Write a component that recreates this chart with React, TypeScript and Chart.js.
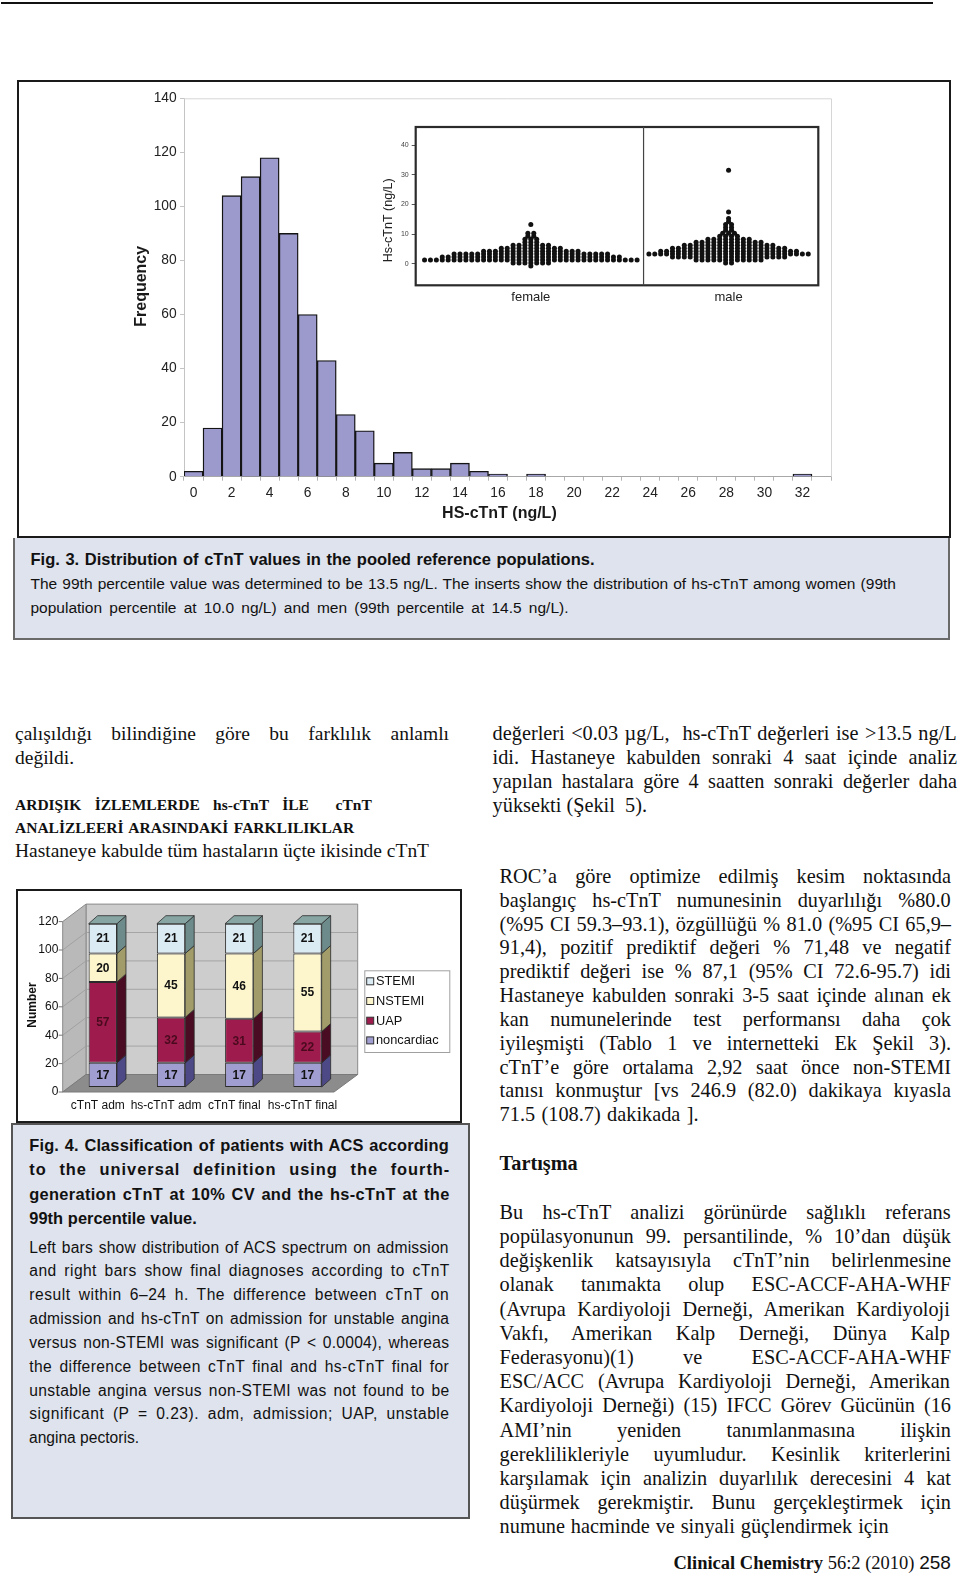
import React, { useEffect, useRef } from 'react';
import { Chart, registerables } from 'chart.js';

Chart.register(...registerables);

const SANS = '"Liberation Sans", Arial, Helvetica, sans-serif';
const SERIF = '"Liberation Serif", "Times New Roman", Times, serif';

// ---------- Fig. 3 histogram data ----------
const histBins = ['0', '1', '2', '3', '4', '5', '6', '7', '8', '9', '10', '11', '12', '13', '14', '15', '16',
  '17', '18', '19', '20', '21', '22', '23', '24', '25', '26', '27', '28', '29', '30', '31', '32', '33'];
const histFreq = [2, 18, 104, 111, 118, 90, 60, 43, 23, 17, 5, 9, 3, 3, 5, 2, 1, 0, 1, 0, 0, 0, 0, 0, 0, 0, 0,
  0, 0, 0, 0, 0, 1, 0];
const histYMax = 140;
const histYStep = 20;

// ---------- Fig. 3 insert (beeswarm) data ----------
const insetGroups = ['female', 'male'];
const femaleLevels = [-0.7, 0.3, 1.3, 2.3, 3.3, 4.3, 5.3, 6.3, 7.3, 8.3, 9.3, 10.3, 13.3];
const femaleCounts = [1, 7, 37, 31, 27, 17, 11, 7, 3, 3, 2, 2, 1];
const maleLevels = [0.3, 1.3, 2.3, 3.3, 4.3, 5.3, 6.3, 7.3, 8.3, 9.3, 10.3, 11.3, 12.3, 13.3, 14.3, 15.3, 17.5, 31.5];
const maleCounts = [2, 12, 20, 28, 24, 20, 16, 12, 8, 4, 3, 2, 2, 2, 1, 1, 1, 1];
const insetYTicks = [0, 10, 20, 30, 40];

// ---------- Fig. 4 stacked bars data ----------
const acsGroups = ['cTnT adm', 'hs-cTnT adm', 'cTnT final', 'hs-cTnT final'];
const noncardiac = [17, 17, 17, 17];
const uap = [57, 32, 31, 22];
const nstemi = [20, 45, 46, 55];
const stemi = [21, 21, 21, 21];
const acsYMax = 120;
const acsYStep = 20;

// ---------- text ----------
const fig3Bold = 'Fig. 3. Distribution of cTnT values in the pooled reference populations.';
const fig3Lines = [
  'The 99th percentile value was determined to be 13.5 ng/L. The inserts show the distribution of hs-cTnT among women (99th',
  'population percentile at 10.0 ng/L) and men (99th percentile at 14.5 ng/L).',
];
const fig4Bold = [
  'Fig. 4. Classification of patients with ACS according',
  'to the universal definition using the fourth-',
  'generation cTnT at 10% CV and the hs-cTnT at the',
  '99th percentile value.',
];
const fig4Lines = [
  'Left bars show distribution of ACS spectrum on admission',
  'and right bars show final diagnoses according to cTnT',
  'result within 6–24 h. The difference between cTnT on',
  'admission and hs-cTnT on admission for unstable angina',
  'versus non-STEMI was significant (P < 0.0004), whereas',
  'the difference between cTnT final and hs-cTnT final for',
  'unstable angina versus non-STEMI was not found to be',
  'significant (P = 0.23). adm, admission; UAP, unstable',
  'angina pectoris.',
];
const rightTop = [
  'değerleri <0.03 µg/L,  hs-cTnT değerleri ise >13.5 ng/L',
  'idi. Hastaneye kabulden sonraki 4 saat içinde analiz',
  'yapılan hastalara göre 4 saatten sonraki değerler daha',
  'yüksekti (Şekil  5).',
];
const rightMid = [
  'ROC’a göre optimize edilmiş kesim noktasında',
  'başlangıç hs-cTnT numunesinin duyarlılığı %80.0',
  '(%95 CI 59.3–93.1), özgüllüğü % 81.0 (%95 CI 65,9–',
  '91,4), pozitif prediktif değeri % 71,48 ve negatif',
  'prediktif değeri ise % 87,1 (95% CI 72.6-95.7) idi',
  'Hastaneye kabulden sonraki 3-5 saat içinde alınan ek',
  'kan numunelerinde test performansı daha çok',
  'iyileşmişti (Tablo 1 ve internetteki Ek Şekil 3).',
  'cTnT’e göre ortalama 2,92 saat önce non-STEMI',
  'tanısı konmuştur [vs 246.9 (82.0) dakikaya kıyasla',
  '71.5 (108.7) dakikada ].',
];
const rightBottom = [
  'Bu hs-cTnT analizi görünürde sağlıklı referans',
  'popülasyonunun 99. persantilinde, % 10’dan düşük',
  'değişkenlik katsayısıyla cTnT’nin belirlenmesine',
  'olanak tanımakta olup ESC-ACCF-AHA-WHF',
  '(Avrupa Kardiyoloji Derneği, Amerikan Kardiyoloji',
  'Vakfı, Amerikan Kalp Derneği, Dünya Kalp',
  'Federasyonu)(1) ve ESC-ACCF-AHA-WHF',
  'ESC/ACC (Avrupa Kardiyoloji Derneği, Amerikan',
  'Kardiyoloji Derneği) (15) IFCC Görev Gücünün (16',
  'AMI’nin yeniden tanımlanmasına ilişkin',
  'gereklilikleriyle uyumludur. Kesinlik kriterlerini',
  'karşılamak için analizin duyarlılık derecesini 4 kat',
  'düşürmek gerekmiştir. Bunu gerçekleştirmek için',
  'numune hacminde ve sinyali güçlendirmek için',
];

if (typeof document !== 'undefined') {
  document.body.style.margin = '0';
  document.body.style.background = '#fff';
}

const measureCanvas = typeof document !== 'undefined' ? document.createElement('canvas') : null;
const mctx = measureCanvas ? measureCanvas.getContext('2d') : null;

function TextLine(props: {
  t: string; x: number; cy: number; w?: number; size: number; family: string; weight?: string;
  color?: string; mode?: 'word' | 'mix';
}) {
  const { t, x, cy, w, size, family, weight = 'normal', color = '#111', mode = 'word' } = props;
  const style: any = {
    position: 'absolute', left: x, top: cy - 0.52 * size, fontFamily: family, fontSize: size,
    fontWeight: weight, lineHeight: size + 'px', whiteSpace: 'pre', color,
  };
  if (w && mctx) {
    mctx.font = `${weight} ${size}px ${family}`;
    const natural = mctx.measureText(t).width;
    const spaces = (t.match(/ /g) || []).length;
    if (natural > w) {
      style.transform = `scaleX(${w / natural})`;
      style.transformOrigin = 'left top';
    } else {
      const extra = w - natural;
      if (mode === 'mix' && t.length > 1) {
        if (spaces > 0) {
          const ls = (extra * 0.5) / (t.length - 1);
          style.letterSpacing = ls + 'px';
          style.wordSpacing = (extra * 0.5) / spaces + 'px';
        } else {
          style.letterSpacing = extra / (t.length - 1) + 'px';
        }
      } else if (spaces > 0) {
        style.wordSpacing = extra / spaces + 'px';
      }
    }
  }
  return <div style={style}>{t}</div>;
}

function Block(props: {
  lines: string[]; x: number; cy0: number; pitch: number; w: number; size: number; family: string;
  weight?: string; lastJustify?: boolean; lastW?: number; mode?: 'word' | 'mix';
}) {
  const { lines, x, cy0, pitch, w, size, family, weight, lastJustify, lastW, mode } = props;
  return (
    <>
      {lines.map((t, i) => {
        const last = i === lines.length - 1;
        const width = last ? (lastJustify ? w : lastW) : w;
        return (
          <TextLine key={i} t={t} x={x} cy={cy0 + i * pitch} w={width} size={size} family={family}
            weight={weight} mode={mode} />
        );
      })}
    </>
  );
}

// ---------- Chart components ----------
function HistogramChart() {
  const ref = useRef<HTMLCanvasElement>(null);
  useEffect(() => {
    if (!ref.current) return;
    const deco = {
      id: 'histDeco',
      afterDraw(chart: any) {
        const { ctx, chartArea: a } = chart;
        ctx.save();
        ctx.strokeStyle = '#d6d6d6';
        ctx.lineWidth = 1;
        ctx.beginPath();
        ctx.moveTo(a.left, a.top + 0.5);
        ctx.lineTo(a.right + 0.5, a.top + 0.5);
        ctx.lineTo(a.right + 0.5, a.bottom);
        ctx.stroke();
        ctx.fillStyle = '#1a1a1a';
        ctx.textAlign = 'center';
        ctx.textBaseline = 'middle';
        ctx.font = `bold 16px ${SANS}`;
        ctx.fillText('HS-cTnT (ng/L)', a.left + 315.4, a.bottom + 37.3);
        ctx.translate(a.left - 42.3, (a.top + a.bottom) / 2 - 1.2);
        ctx.rotate(-Math.PI / 2);
        ctx.fillText('Frequency', 0, 0);
        ctx.restore();
      },
    };
    const chart = new Chart(ref.current, {
      type: 'bar',
      data: {
        labels: histBins,
        datasets: [{
          data: histFreq, backgroundColor: '#9c9acd', borderColor: '#141414', borderWidth: 1.4,
          barPercentage: 1, categoryPercentage: 1,
        }],
      },
      options: {
        animation: false, responsive: false, devicePixelRatio: 1,
        layout: { padding: { top: 15.3, right: 112, left: 0, bottom: 0 }, autoPadding: false } as any,
        plugins: { legend: { display: false }, tooltip: { enabled: false } },
        scales: {
          x: {
            type: 'category', offset: true,
            grid: { drawOnChartArea: false, drawTicks: true, tickLength: 4, color: '#b4b4b4', offset: true },
            border: { color: '#a8a8a8' },
            ticks: {
              autoSkip: false, maxRotation: 0, minRotation: 0, padding: 4.5, color: '#222',
              font: { family: SANS, size: 13.8 },
              callback: (_v: any, i: number) => (i % 2 === 0 ? histBins[i] : ''),
            },
            afterFit: (s: any) => { s.height = 53.3; },
          },
          y: {
            min: 0, max: histYMax,
            ticks: { stepSize: histYStep, padding: 3.3, color: '#222', font: { family: SANS, size: 13.8 } },
            grid: { drawOnChartArea: false, drawTicks: true, tickLength: 4, color: '#c4c4c4' },
            border: { color: '#c4c4c4' },
            afterFit: (s: any) => { s.width = 163; },
          },
        },
      },
      plugins: [deco],
    } as any);
    return () => chart.destroy();
  }, []);
  return <canvas ref={ref} width={922} height={447} style={{ position: 'absolute', left: 21, top: 83 }} />;
}

function swarm(levels: number[], counts: number[], center: number) {
  const pts: { x: number; y: number }[] = [];
  levels.forEach((v, r) => {
    const n = counts[r];
    for (let j = 0; j < n; j++) pts.push({ x: center + j - (n - 1) / 2, y: v });
  });
  return pts;
}

function InsetChart() {
  const ref = useRef<HTMLCanvasElement>(null);
  useEffect(() => {
    if (!ref.current) return;
    const centers = [19.5, 53.0];
    const divider = 38.6;
    const deco = {
      id: 'insetDeco',
      afterDraw(chart: any) {
        const { ctx, chartArea: a, scales } = chart;
        ctx.save();
        ctx.strokeStyle = '#2b2b2b';
        ctx.lineWidth = 2.2;
        ctx.strokeRect(a.left, a.top, a.right - a.left, a.bottom - a.top);
        const dx = scales.x.getPixelForValue(divider);
        ctx.lineWidth = 1.2;
        ctx.strokeStyle = '#444';
        ctx.beginPath();
        ctx.moveTo(dx, a.top);
        ctx.lineTo(dx, a.bottom);
        ctx.stroke();
        ctx.fillStyle = '#222';
        ctx.font = `12.5px ${SANS}`;
        ctx.textAlign = 'center';
        ctx.textBaseline = 'middle';
        ctx.translate(a.left - 27.4, 108.3);
        ctx.rotate(-Math.PI / 2);
        ctx.fillText('Hs-cTnT (ng/L)', 0, 0);
        ctx.restore();
      },
    };
    const chart = new Chart(ref.current, {
      type: 'scatter',
      data: {
        datasets: [
          { data: swarm(femaleLevels, femaleCounts, centers[0]), backgroundColor: '#111', borderWidth: 0, pointRadius: 2.5 },
          { data: swarm(maleLevels, maleCounts, centers[1]), backgroundColor: '#111', borderWidth: 0, pointRadius: 2.5 },
        ],
      },
      options: {
        animation: false, responsive: false, devicePixelRatio: 1,
        layout: { padding: { top: 15, right: 26.7, left: 0, bottom: 0 }, autoPadding: false } as any,
        plugins: { legend: { display: false }, tooltip: { enabled: false } },
        scales: {
          x: {
            type: 'linear', min: 0, max: 68.2,
            afterBuildTicks: (axis: any) => { axis.ticks = centers.map((v) => ({ value: v })); },
            ticks: {
              padding: 4, color: '#222', font: { family: SANS, size: 13 }, maxRotation: 0, autoSkip: false,
              callback: (_v: any, i: number) => insetGroups[i],
            },
            grid: { display: false, drawTicks: false },
            border: { display: false },
            afterFit: (s: any) => { s.height = 26.7; },
          },
          y: {
            type: 'linear', min: -7.2, max: 46.1,
            afterBuildTicks: (axis: any) => { axis.ticks = insetYTicks.map((v) => ({ value: v })); },
            ticks: { padding: 3, color: '#444', font: { family: SANS, size: 7 } },
            grid: { drawOnChartArea: false, drawTicks: true, tickLength: 4, color: '#555' },
            border: { display: false },
            afterFit: (s: any) => { s.width = 40.7; },
          },
        },
      },
      plugins: [deco],
    } as any);
    return () => chart.destroy();
  }, []);
  return <canvas ref={ref} width={470} height={200} style={{ position: 'absolute', left: 375, top: 112 }} />;
}

function AcsChart() {
  const ref = useRef<HTMLCanvasElement>(null);
  useEffect(() => {
    if (!ref.current) return;
    const fronts = ['#a09dd1', '#9e1c4d', '#fdf6cc', '#dbebf4'];
    const sides = ['#4c4986', '#4a0c22', '#a19c6a', '#6d8b8a'];
    const topFace = '#86a5a3';
    const valueColors = ['#111', '#4a0a1e', '#111', '#111'];
    const DX = 9, DY = -8;
    const poly = (ctx: any, pts: number[][], fill: string, stroke = '#2a2a2a', lw = 0.8) => {
      ctx.beginPath();
      pts.forEach((p, i) => (i ? ctx.lineTo(p[0], p[1]) : ctx.moveTo(p[0], p[1])));
      ctx.closePath();
      ctx.fillStyle = fill;
      ctx.fill();
      if (stroke) { ctx.strokeStyle = stroke; ctx.lineWidth = lw; ctx.stroke(); }
    };
    const bar3d = {
      id: 'bar3d',
      beforeDatasetsDraw(chart: any) {
        const { ctx, chartArea: a, scales } = chart;
        const ys = scales.y;
        const fx = a.left - 6, bx = a.left + 17.3, brx = a.right + 16.1, ffx = a.right - 7.6;
        const f = (v: number) => ys.getPixelForValue(v) + 5;
        const b = (v: number) => ys.getPixelForValue(v) - 12.5;
        ctx.save();
        poly(ctx, [[bx, b(acsYMax)], [brx, b(acsYMax)], [brx, b(0)], [bx, b(0)]], '#cdcdcd', '#8a8a8a', 1);
        poly(ctx, [[fx, f(acsYMax)], [bx, b(acsYMax)], [bx, b(0)], [fx, f(0)]], '#b9b9b9', '#8a8a8a', 1);
        poly(ctx, [[fx, f(0)], [ffx, f(0)], [brx, b(0)], [bx, b(0)]], '#8c8c8c', '#7a7a7a', 1);
        ctx.strokeStyle = '#9a9a9a';
        ctx.lineWidth = 0.8;
        for (let v = acsYStep; v < acsYMax; v += acsYStep) {
          ctx.beginPath();
          ctx.moveTo(fx, f(v));
          ctx.lineTo(bx, b(v));
          ctx.lineTo(brx, b(v));
          ctx.stroke();
        }
        ctx.strokeStyle = '#777';
        ctx.lineWidth = 1;
        ctx.beginPath();
        for (let v = 0; v <= acsYMax; v += acsYStep) {
          ctx.moveTo(fx - 4, f(v));
          ctx.lineTo(fx, f(v));
        }
        ctx.stroke();
        ctx.restore();
      },
      afterDatasetsDraw(chart: any) {
        const { ctx } = chart;
        ctx.save();
        const n = chart.data.datasets.length;
        chart.data.datasets.forEach((ds: any, d: number) => {
          const meta = chart.getDatasetMeta(d);
          meta.data.forEach((el: any, i: number) => {
            const { x, y, base, width } = el.getProps(['x', 'y', 'base', 'width'], true);
            const l = x - width / 2, r = x + width / 2;
            poly(ctx, [[r, y], [r + DX, y + DY], [r + DX, base + DY], [r, base]], sides[d]);
            if (d === n - 1) poly(ctx, [[l, y], [l + DX, y + DY], [r + DX, y + DY], [r, y]], topFace);
            ctx.fillStyle = valueColors[d];
            ctx.font = `bold 12px ${SANS}`;
            ctx.textAlign = 'center';
            ctx.textBaseline = 'middle';
            ctx.fillText(String(ds.data[i]), x, (y + base) / 2 + 0.5);
          });
        });
        ctx.restore();
      },
      afterDraw(chart: any) {
        const { ctx, chartArea: a } = chart;
        ctx.save();
        const lx = a.right + 22.7, ly = 78.3, lw = 85, lh = 81.7;
        ctx.fillStyle = '#fff';
        ctx.fillRect(lx, ly, lw, lh);
        ctx.strokeStyle = '#a0a0a0';
        ctx.lineWidth = 1;
        ctx.strokeRect(lx + 0.5, ly + 0.5, lw, lh);
        const order = chart.data.datasets.map((_: any, i: number) => i).reverse();
        ctx.font = `12.8px ${SANS}`;
        ctx.textAlign = 'left';
        ctx.textBaseline = 'middle';
        order.forEach((d: number, k: number) => {
          const cy = ly + 11 + k * 19.7;
          ctx.fillStyle = fronts[d];
          ctx.fillRect(lx + 2.4, cy - 3.5, 7, 7);
          ctx.strokeStyle = '#333';
          ctx.strokeRect(lx + 2.4, cy - 3.5, 7, 7);
          ctx.fillStyle = '#111';
          ctx.fillText(chart.data.datasets[d].label, lx + 11.7, cy + 0.5);
        });
        ctx.font = `bold 12px ${SANS}`;
        ctx.textAlign = 'center';
        ctx.translate(14.5, 113);
        ctx.rotate(-Math.PI / 2);
        ctx.fillText('Number', 0, 0);
        ctx.restore();
      },
    };
    const mk = (label: string, data: number[], i: number) => ({
      label, data, backgroundColor: fronts[i], borderColor: '#2a2a2a', borderWidth: 1,
      borderSkipped: false, categoryPercentage: 0.83, barPercentage: 0.5,
    });
    const chart = new Chart(ref.current, {
      type: 'bar',
      data: {
        labels: acsGroups,
        datasets: [mk('noncardiac', noncardiac, 0), mk('UAP', uap, 1), mk('NSTEMI', nstemi, 2), mk('STEMI', stemi, 3)],
      },
      options: {
        animation: false, responsive: false, devicePixelRatio: 1,
        layout: { padding: { top: 24.6, right: 118.4, left: 0, bottom: 0 }, autoPadding: false } as any,
        plugins: { legend: { display: false }, tooltip: { enabled: false } },
        scales: {
          x: {
            stacked: true,
            grid: { display: false, drawTicks: false }, border: { display: false },
            ticks: { labelOffset: -5, padding: 11, color: '#111', font: { family: SANS, size: 12 }, maxRotation: 0, autoSkip: false },
            afterFit: (s: any) => { s.height = 34; },
          },
          y: {
            stacked: true, min: 0, max: acsYMax,
            grid: { display: false, drawTicks: false }, border: { display: false },
            ticks: { stepSize: acsYStep, labelOffset: 5, padding: 10.4, color: '#111', font: { family: SANS, size: 12 } },
            afterFit: (s: any) => { s.width = 50.7; },
          },
        },
      },
      plugins: [bar3d],
    } as any);
    return () => chart.destroy();
  }, []);
  return <canvas ref={ref} width={442} height={229} style={{ position: 'absolute', left: 18, top: 892 }} />;
}

export default function App() {
  useEffect(() => {
    document.body.style.margin = '0';
  }, []);
  const capBg = '#dfe3ed';
  return (
    <div style={{ position: 'absolute', left: 0, top: 0, width: 960, height: 1577, background: '#fff', overflow: 'hidden', color: '#111' }}>
      {/* top rule */}
      <div style={{ position: 'absolute', left: 1, top: 1.5, width: 932, height: 2.5, background: '#111' }} />

      {/* Fig 3 */}
      <div style={{ position: 'absolute', left: 17, top: 80, width: 934, height: 458, border: '2.5px solid #1a1a1a', boxSizing: 'border-box', background: '#fff' }} />
      <HistogramChart />
      <InsetChart />
      <div style={{ position: 'absolute', left: 13, top: 538, width: 937, height: 102, background: capBg, border: '2px solid #6a6a6a', borderTop: 'none', boxSizing: 'border-box' }} />
      <TextLine t={fig3Bold} x={30.5} cy={560} w={564} size={16.5} family={SANS} weight="bold" />
      <TextLine t={fig3Lines[0]} x={30.5} cy={584.5} w={866} size={15.5} family={SANS} />
      <TextLine t={fig3Lines[1]} x={30.5} cy={608.5} w={538} size={15.5} family={SANS} />

      {/* left column text */}
      <TextLine t="çalışıldığı bilindiğine göre bu farklılık anlamlı" x={15} cy={734} w={434} size={19.5} family={SERIF} />
      <TextLine t="değildi." x={15} cy={758} size={19.5} family={SERIF} />
      <TextLine t="ARDIŞIK  İZLEMLERDE  hs-cTnT  İLE    cTnT" x={15} cy={805} w={357} size={15.5} family={SERIF} weight="bold" />
      <TextLine t="ANALİZLEERİ ARASINDAKİ FARKLILIKLAR" x={15} cy={828} w={340} size={15.5} family={SERIF} weight="bold" />
      <TextLine t="Hastaneye kabulde tüm hastaların üçte ikisinde cTnT" x={15} cy={851} w={414} size={19.5} family={SERIF} />

      {/* Fig 4 */}
      <div style={{ position: 'absolute', left: 16, top: 889, width: 446, height: 234, border: '2.5px solid #1a1a1a', boxSizing: 'border-box', background: '#fff' }} />
      <AcsChart />
      <div style={{ position: 'absolute', left: 11, top: 1123, width: 459, height: 396, background: capBg, border: '2px solid #555', boxSizing: 'border-box' }} />
      <Block lines={fig4Bold} x={29.3} cy0={1145.7} pitch={24.2} w={420} size={16.4} family={SANS} weight="bold" mode="mix" lastW={167.5} />
      <Block lines={fig4Lines} x={29.3} cy0={1247.7} pitch={23.82} w={420} size={15.6} family={SANS} mode="mix" lastW={110} />

      {/* right column */}
      <Block lines={rightTop} x={492.6} cy0={734} pitch={24} w={464.4} size={20.3} family={SERIF} lastW={154.4} />
      <Block lines={rightMid} x={499.6} cy0={876.4} pitch={23.84} w={451.4} size={20.3} family={SERIF} lastW={199} />
      <TextLine t="Tartışma" x={499.6} cy={1164} size={20.3} family={SERIF} weight="bold" />
      <Block lines={rightBottom} x={499.6} cy0={1212.3} pitch={24.2} w={451.4} size={20.3} family={SERIF} lastW={389} />

      {/* footer */}
      <div style={{ position: 'absolute', left: 673.5, top: 1564 - 0.52 * 18.5, lineHeight: '18.5px', whiteSpace: 'pre', color: '#111' }}>
        <span style={{ fontFamily: SERIF, fontSize: 18.5, fontWeight: 'bold' }}>Clinical Chemistry</span>
        <span style={{ fontFamily: SERIF, fontSize: 18.5 }}> 56:2 (2010) </span>
        <span style={{ fontFamily: SANS, fontSize: 19 }}>258</span>
      </div>
    </div>
  );
}
